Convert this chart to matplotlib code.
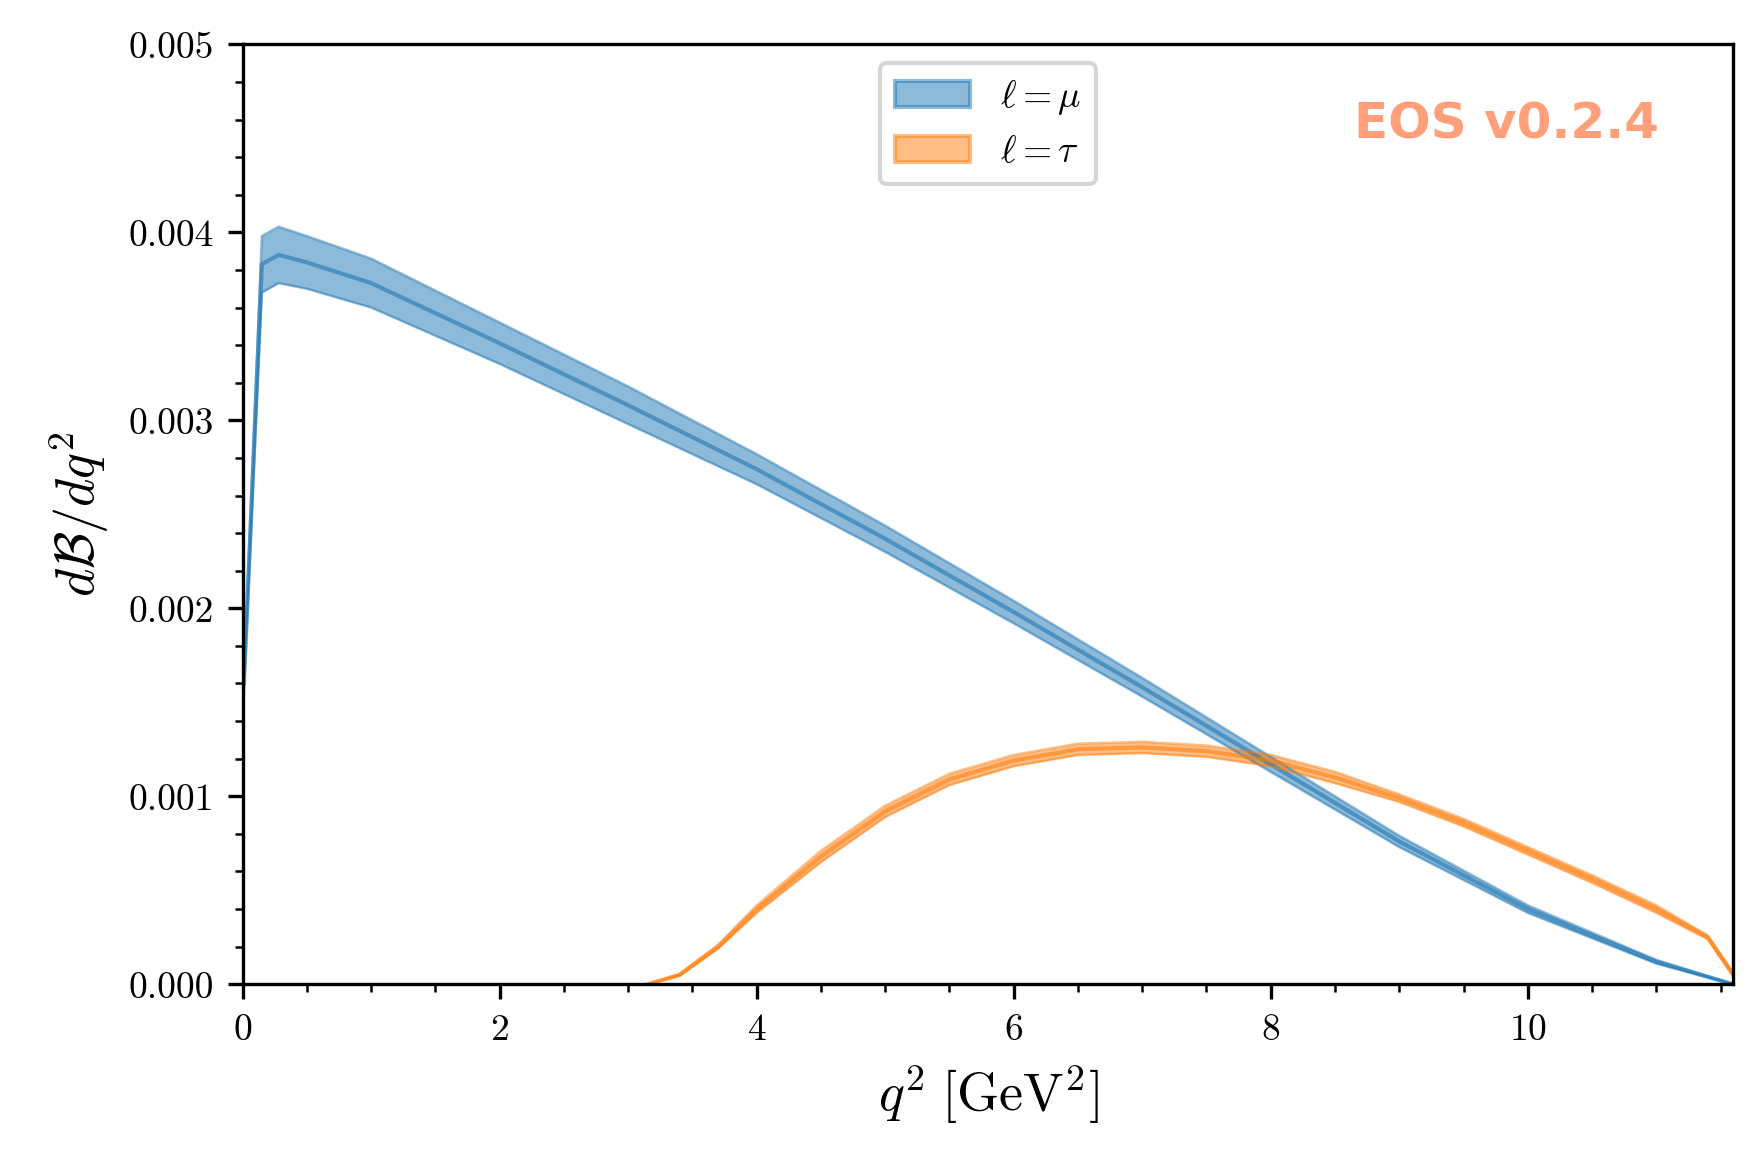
import numpy as np
import matplotlib
matplotlib.use("Agg")
import matplotlib.pyplot as plt
from matplotlib.patches import Patch

plt.rcParams.update({"font.family": "serif", "font.serif": ["cmr10"],
                     "mathtext.fontset": "cm", "axes.formatter.use_mathtext": True})

# ell = mu: q2, central, half-width of band
mu_q2 = [0.01, 0.15, 0.28, 0.5, 1.0, 2.0, 3.0, 4.0, 5.0, 6.0, 7.0, 8.0, 9.0, 10.0, 11.0, 11.6]
mu_val = [0.00160, 0.00383, 0.00388, 0.00384, 0.00373, 0.00341, 0.00308, 0.00274, 0.00237, 0.00198,
          0.00158, 0.00117, 0.00076, 0.00040, 0.00012, 0.0]
mu_err = [0.00005, 0.00015, 0.00015, 0.00014, 0.00013, 0.00011, 0.00010, 0.00008, 0.00007, 0.00006,
          0.00005, 0.00004, 0.00003, 0.00002, 0.00001, 0.0]

# ell = tau
tau_q2 = [3.15, 3.4, 3.7, 4.0, 4.5, 5.0, 5.5, 6.0, 6.5, 7.0, 7.5, 8.0, 8.5, 9.0, 9.5, 10.0, 10.5, 11.0, 11.4, 11.6]
tau_val = [0.0, 0.00005, 0.00020, 0.00040, 0.00068, 0.00092, 0.00109, 0.00119, 0.00125, 0.00126,
           0.00124, 0.00119, 0.00110, 0.00099, 0.00086, 0.00071, 0.00056, 0.00040, 0.00025, 0.00005]
tau_err = [0.0, 0.000005, 0.00001, 0.00002, 0.00003, 0.00003, 0.00003, 0.00003, 0.00003, 0.00003,
           0.00003, 0.00003, 0.00003, 0.00002, 0.00002, 0.00002, 0.00002, 0.00002, 0.00001, 0.00001]

fig = plt.figure(figsize=(5.86, 3.897), dpi=300)
ax = fig.add_axes([0.138, 0.158, 0.848, 0.804])

for q, v, e, c in ((mu_q2, mu_val, mu_err, "C0"), (tau_q2, tau_val, tau_err, "C1")):
    q, v, e = np.array(q), np.array(v), np.array(e)
    ax.fill_between(q, v - e, v + e, color=c, alpha=0.5, lw=0)
    ax.plot(q, v, color=c, lw=1.0, alpha=0.6)
    ax.plot(q, v - e, color=c, lw=0.6, alpha=0.5)
    ax.plot(q, v + e, color=c, lw=0.6, alpha=0.5)

ax.set_xlim(0, 11.6)
ax.set_ylim(0, 0.005)
ax.set_xticks([0, 2, 4, 6, 8, 10])
ax.set_yticks([0, 0.001, 0.002, 0.003, 0.004, 0.005])
ax.set_yticklabels([f"{t:.3f}" for t in ax.get_yticks()])
ax.minorticks_on()
ax.tick_params(labelsize=9)
ax.set_xlabel(r"$q^2\;[\mathrm{GeV}^2]$", fontsize=13)
ax.set_ylabel(r"$d\mathcal{B}/dq^2$", fontsize=13)

handles = [Patch(color="C0", alpha=0.5), Patch(color="C1", alpha=0.5)]
ax.legend(handles, [r"$\ell=\mu$", r"$\ell=\tau$"], loc="upper center", fontsize=9,
          bbox_to_anchor=(0.5, 1.0))
ax.text(0.95, 0.94, "EOS v0.2.4", transform=ax.transAxes, ha="right", va="top",
        color="#FFA07A", fontsize=12, fontweight="bold", family="DejaVu Sans")

fig.savefig("out.png", dpi=300)
